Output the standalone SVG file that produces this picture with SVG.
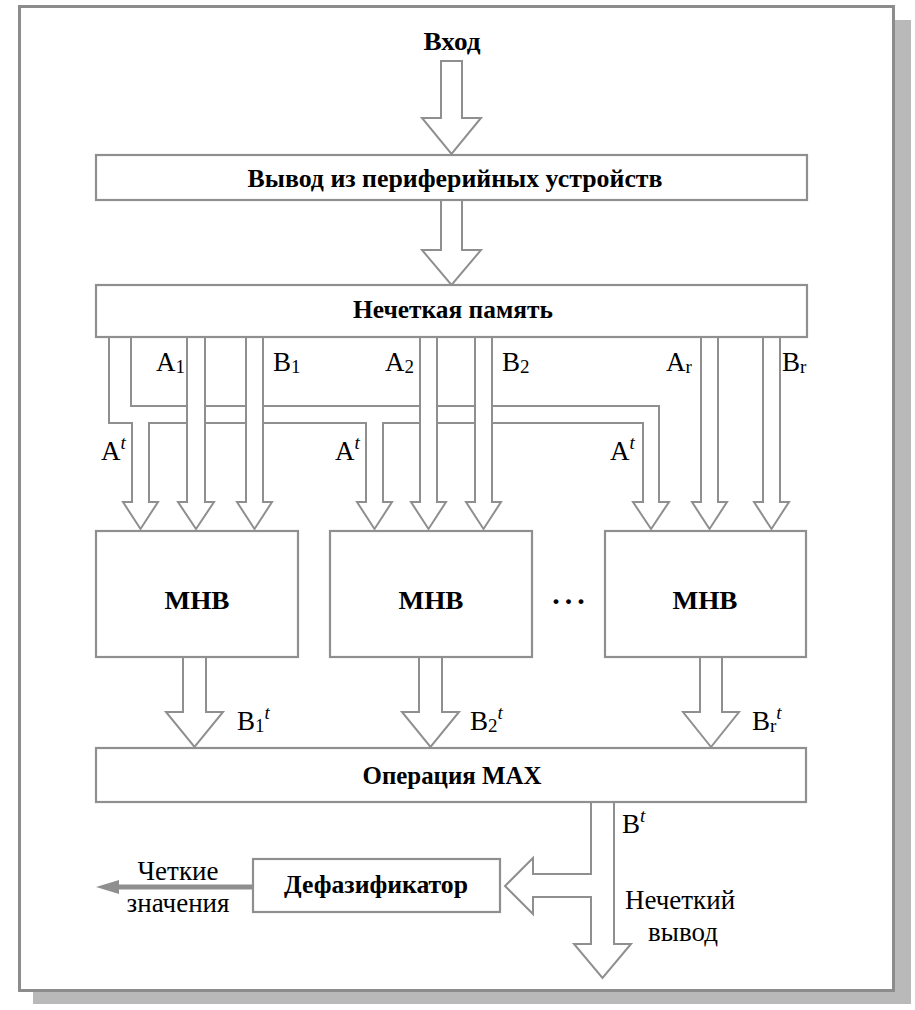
<svg xmlns="http://www.w3.org/2000/svg" width="915" height="1010" viewBox="0 0 915 1010">
<style>
.box{fill:#fff;stroke:#8f8f8f;stroke-width:2.2}
.arr{fill:#fff;stroke:#8f8f8f;stroke-width:2;stroke-linejoin:miter}
.tb{font-family:"Liberation Serif","Times New Roman",serif;font-weight:bold;font-size:26px;text-anchor:middle;fill:#000}
.tr{font-family:"Liberation Serif","Times New Roman",serif;font-size:27px;fill:#000}
.sub{font-size:19px}
.sup{font-size:19px;font-style:italic}
</style>
<rect x="33" y="20" width="878" height="984" fill="#b9b9b9"/>
<rect x="19.5" y="6.5" width="874" height="984" fill="#fff" stroke="#8c8c8c" stroke-width="3"/>

<g id="connectors">
  <path class="arr" d="M441,61 V118 H422 L451.5,154 L481,118 H462 V61 Z"/>
  <path class="arr" d="M441,200 V250 H422 L451.5,285 L481,250 H462 V200"/>
  <path class="arr" d="M109,337 V423 H132 V502 H123 L140.5,529 L158,502 H149 V423 H366 V502 H357 L374.5,529 L392,502 H383 V423 H643 V502 H633 L651,529 L669,502 H659 V406 H131 V337"/>
  <path class="arr" d="M187,337 V502 H178 L196,529 L214,502 H205 V337"/>
  <path class="arr" d="M246,337 V502 H237 L254.5,529 L272,502 H263 V337"/>
  <path class="arr" d="M420,337 V502 H411 L428.5,529 L446,502 H437 V337"/>
  <path class="arr" d="M475,337 V502 H466 L483.5,529 L501,502 H492 V337"/>
  <path class="arr" d="M701,337 V502 H692 L709.5,529 L727,502 H718 V337"/>
  <path class="arr" d="M763,337 V502 H754 L771.5,529 L789,502 H780 V337"/>
  <path class="arr" d="M183,657 V712 H166 L194.5,747 L223,712 H206 V657"/>
  <path class="arr" d="M419,657 V712 H402 L430.5,747 L459,712 H442 V657"/>
  <path class="arr" d="M700,657 V712 H683 L711,747 L739,712 H722 V657"/>
  <path class="arr" d="M591,802 V874 H533 V858 L505,886 L533,914 V897 H591 V944 H574 L602.5,978 L631,944 H614 V802"/>
  <line x1="253" y1="887" x2="112" y2="887" stroke="#8f8f8f" stroke-width="5"/>
  <polygon points="96,887 119,880 119,894" fill="#8f8f8f"/>
</g>

<g id="input">
  <text class="tb" x="452" y="50" textLength="57" lengthAdjust="spacingAndGlyphs">Вход</text>
</g>
<g id="periph">
  <rect class="box" x="96" y="155" width="711" height="45"/>
  <text class="tb" x="455" y="187" textLength="415" lengthAdjust="spacingAndGlyphs">Вывод из периферийных устройств</text>
</g>
<g id="memory">
  <rect class="box" x="96" y="285" width="711" height="52"/>
  <text class="tb" x="453" y="318" textLength="200" lengthAdjust="spacingAndGlyphs">Нечеткая память</text>
</g>
<g id="labels-in">
  <text class="tr" x="156" y="371">A<tspan class="sub" dy="2">1</tspan></text>
  <text class="tr" x="273" y="371">B<tspan class="sub" dy="2">1</tspan></text>
  <text class="tr" x="385" y="371">A<tspan class="sub" dy="2">2</tspan></text>
  <text class="tr" x="502" y="371">B<tspan class="sub" dy="2">2</tspan></text>
  <text class="tr" x="666" y="371">A<tspan class="sub" dy="2">r</tspan></text>
  <text class="tr" x="782" y="371">B<tspan class="sub" dy="2">r</tspan></text>
  <text class="tr" x="101" y="460">A<tspan class="sup" dy="-11">t</tspan></text>
  <text class="tr" x="335" y="460">A<tspan class="sup" dy="-11">t</tspan></text>
  <text class="tr" x="610" y="460">A<tspan class="sup" dy="-11">t</tspan></text>
</g>
<g id="mhb1">
  <rect class="box" x="96" y="531" width="202" height="126"/>
  <text class="tb" x="197" y="609" textLength="65" lengthAdjust="spacingAndGlyphs">МНВ</text>
</g>
<g id="mhb2">
  <rect class="box" x="330" y="531" width="202" height="126"/>
  <text class="tb" x="431" y="609" textLength="65" lengthAdjust="spacingAndGlyphs">МНВ</text>
</g>
<text class="tb" x="571" y="604" style="font-size:30px" letter-spacing="5">...</text>
<g id="mhbr">
  <rect class="box" x="605" y="531" width="201" height="126"/>
  <text class="tb" x="705" y="609" textLength="65" lengthAdjust="spacingAndGlyphs">МНВ</text>
</g>
<g id="labels-out">
  <text class="tr" x="237" y="730">B<tspan class="sub" dy="2">1</tspan><tspan class="sup" dy="-13">t</tspan></text>
  <text class="tr" x="470" y="730">B<tspan class="sub" dy="2">2</tspan><tspan class="sup" dy="-13">t</tspan></text>
  <text class="tr" x="752" y="730">B<tspan class="sub" dy="2">r</tspan><tspan class="sup" dy="-13">t</tspan></text>
</g>
<g id="max">
  <rect class="box" x="96" y="748" width="710" height="54"/>
  <text class="tb" x="452" y="784" textLength="179" lengthAdjust="spacingAndGlyphs">Операция MAX</text>
</g>
<g id="defuzz">
  <rect class="box" x="253" y="859" width="247" height="53"/>
  <text class="tb" x="376" y="893" textLength="184" lengthAdjust="spacingAndGlyphs">Дефазификатор</text>
</g>
<g id="labels-bottom">
  <text class="tr" x="622" y="833">B<tspan class="sup" dy="-11">t</tspan></text>
  <text class="tr" x="680" y="909" text-anchor="middle">Нечеткий</text>
  <text class="tr" x="683" y="941" text-anchor="middle">вывод</text>
  <text class="tr" x="178" y="880" text-anchor="middle">Четкие</text>
  <text class="tr" x="178" y="912" text-anchor="middle">значения</text>
</g>
</svg>
